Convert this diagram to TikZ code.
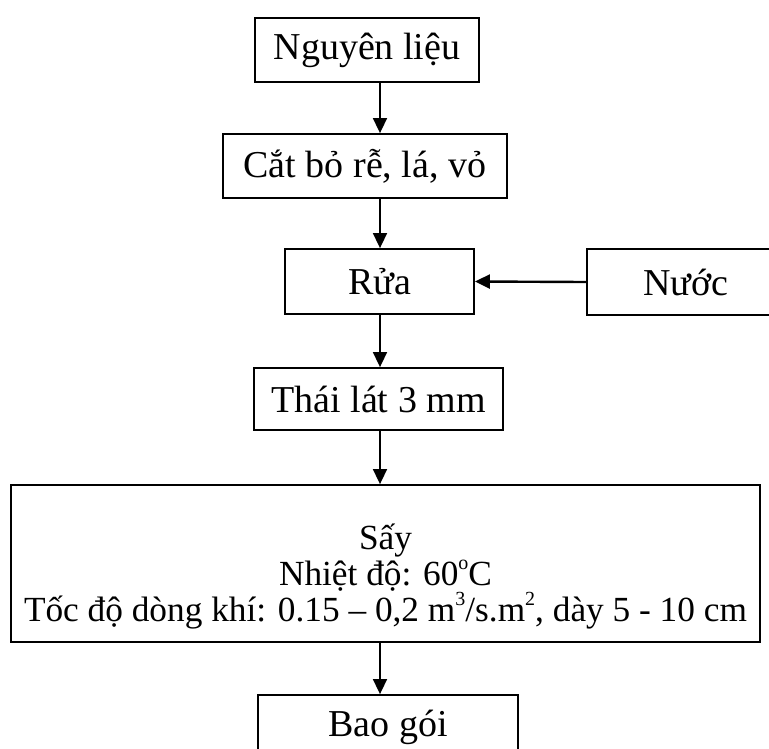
\documentclass[tikz,border=0pt]{standalone}
\usepackage{fontspec}
\setmainfont{Liberation Serif}
\usetikzlibrary{arrows.meta,positioning}

\newcommand\upidx[1]{\raisebox{0.45em}{\fontsize{20}{20}\selectfont #1}}

\tikzset{
    stepbox/.style={draw, line width=1.8pt, minimum height=64pt, inner sep=0pt,
        font=\fontsize{38}{40}\selectfont},
    flowarrow/.style={line width=1.6pt, -{Triangle[length=15pt,width=14pt]}},
}

\begin{document}
\begin{tikzpicture}[x=1pt,y=-1pt]
    \useasboundingbox (0,0) rectangle (769,748);
    \clip (0,0) rectangle (769,748);

    % process steps
    \node[stepbox, minimum width=224pt] (nguyenlieu) at (367,50) {Nguyên liệu};
    \node[stepbox, minimum width=284pt] (catbo) at (365,166) {Cắt bỏ rễ, lá, vỏ};
    \node[stepbox, minimum width=189pt, minimum height=65pt] (rua) at (379.5,281.5) {Rửa};
    \node[stepbox, minimum width=198pt, minimum height=66pt] (nuoc) at (686,282) {Nước};
    \node[stepbox, minimum width=249pt, minimum height=62pt] (thai) at (378.5,399) {Thái lát 3 mm};
    \node[stepbox, minimum width=749pt, minimum height=157pt, align=center,
        font=\fontsize{35.3}{36}\selectfont] (say) at (385.5,563.5)
        {\rule{0pt}{52pt}Sấy\\Nhiệt độ: 60\upidx{o}C\\Tốc độ dòng khí: 0.15 – 0,2 m\upidx{3}/s.m\upidx{2}, dày 5 - 10 cm};
    \node[stepbox, minimum width=260pt] (baogoi) at (388,727) {Bao gói};

    % connectors
    \coordinate (spine) at (380,0);
    \draw[flowarrow] (nguyenlieu.south -| spine) -- (catbo.north -| spine);
    \draw[flowarrow] (catbo.south -| spine) -- (rua.north -| spine);
    \draw[flowarrow, line width=2.4pt] (nuoc.west) -- (rua.east);
    \draw[flowarrow] (rua.south -| spine) -- (thai.north -| spine);
    \draw[flowarrow] (thai.south -| spine) -- (say.north -| spine);
    \draw[flowarrow] (say.south -| spine) -- (baogoi.north -| spine);
\end{tikzpicture}
\end{document}
